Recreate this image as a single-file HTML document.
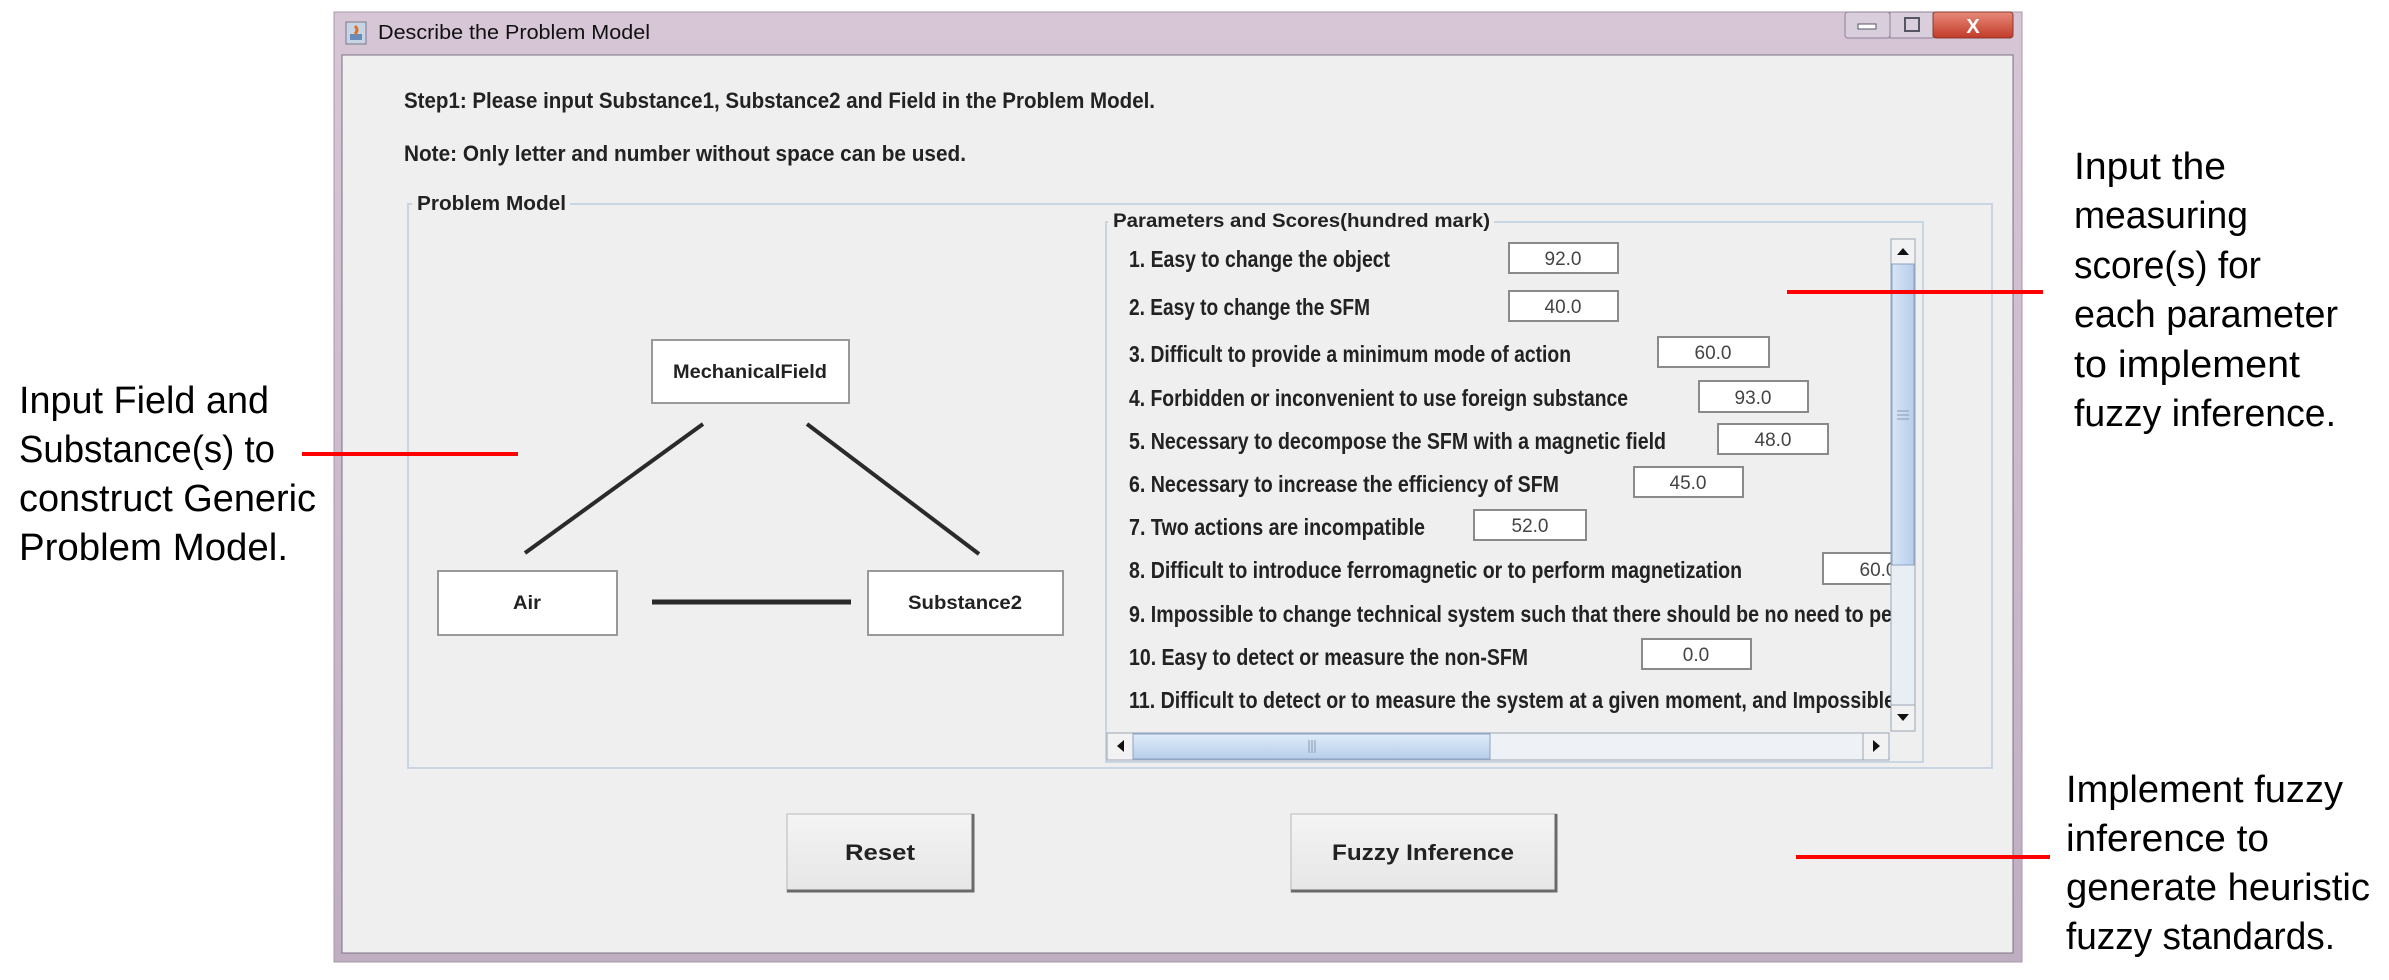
<!DOCTYPE html>
<html><head><meta charset="utf-8"><style>
html,body{margin:0;padding:0;background:#fff;}
svg{display:block;}
.a{font-family:"Liberation Sans",sans-serif;font-size:38px;fill:#000;}
.b{font-family:"Liberation Sans",sans-serif;font-weight:bold;fill:#222;}
.v{font-family:"Liberation Sans",sans-serif;font-size:19px;fill:#444;}
</style></head><body>
<svg width="2389" height="980" viewBox="0 0 2389 980" xmlns="http://www.w3.org/2000/svg">
<defs>
<linearGradient id="tb" x1="0" y1="0" x2="0" y2="1"><stop offset="0" stop-color="#d6c6d6"/><stop offset="1" stop-color="#bfaec2"/></linearGradient>
<linearGradient id="cl" x1="0" y1="0" x2="0" y2="1"><stop offset="0" stop-color="#e88a7a"/><stop offset="1" stop-color="#c23a28"/></linearGradient>
<linearGradient id="sb" x1="0" y1="0" x2="1" y2="0"><stop offset="0" stop-color="#d8e6f6"/><stop offset="1" stop-color="#b6cdea"/></linearGradient>
<linearGradient id="sbh" x1="0" y1="0" x2="0" y2="1"><stop offset="0" stop-color="#e0ecf8"/><stop offset="1" stop-color="#b6cdea"/></linearGradient>
<linearGradient id="btn" x1="0" y1="0" x2="0" y2="1"><stop offset="0" stop-color="#f4f4f4"/><stop offset="1" stop-color="#e6e6e6"/></linearGradient>
<clipPath id="vp"><rect x="1107" y="236" width="784" height="496"/></clipPath>
</defs>
<rect width="2389" height="980" fill="#fff"/>
<rect x="334" y="12" width="1688" height="950" fill="url(#tb)" stroke="#a897aa" stroke-width="1"/>
<rect x="342" y="55" width="1671" height="898" fill="#efefef" stroke="#7d7080" stroke-width="1"/>
<rect x="346" y="22" width="20" height="22" fill="#c8d4e4" stroke="#7a7a8a"/>
<path d="M350 34 h12 v6 h-12z" fill="#6a8ab8"/><path d="M355 26 q4 4 0 8" stroke="#e07020" stroke-width="3" fill="none"/>
<text x="378" y="39" font-family="Liberation Sans,sans-serif" font-size="20" fill="#111" textLength="272" lengthAdjust="spacingAndGlyphs">Describe the Problem Model</text>
<rect x="1845" y="12" width="45" height="26" rx="3" fill="#d9cfdc" stroke="#8f8296"/>
<rect x="1858" y="24" width="18" height="5" fill="#fff" stroke="#556"/>
<rect x="1890" y="12" width="43" height="26" fill="#d9cfdc" stroke="#8f8296"/>
<rect x="1905" y="18" width="14" height="13" fill="none" stroke="#556" stroke-width="2"/>
<rect x="1933" y="12" width="80" height="26" rx="3" fill="url(#cl)" stroke="#8a3a30"/>
<text x="1973" y="33" text-anchor="middle" font-family="Liberation Sans,sans-serif" font-weight="bold" font-size="20" fill="#fff">X</text>
<text class="b" x="404" y="108" font-size="22" textLength="751" lengthAdjust="spacingAndGlyphs">Step1:  Please input Substance1, Substance2 and Field in the Problem Model.</text>
<text class="b" x="404" y="161" font-size="22" textLength="562" lengthAdjust="spacingAndGlyphs">Note: Only letter and number without space can be used.</text>
<rect x="408" y="204" width="1584" height="564" fill="none" stroke="#c9d5e2" stroke-width="2"/>
<rect x="412" y="192" width="158" height="24" fill="#efefef"/>
<text class="b" x="417" y="210" font-size="20" textLength="149" lengthAdjust="spacingAndGlyphs">Problem Model</text>
<rect x="652" y="340" width="197" height="63" fill="#fff" stroke="#999" stroke-width="2"/>
<text class="b" x="750" y="378" font-size="19" text-anchor="middle" textLength="154" lengthAdjust="spacingAndGlyphs">MechanicalField</text>
<rect x="438" y="571" width="179" height="64" fill="#fff" stroke="#999" stroke-width="2"/>
<text class="b" x="527" y="609" font-size="19" text-anchor="middle" textLength="28" lengthAdjust="spacingAndGlyphs">Air</text>
<rect x="868" y="571" width="195" height="64" fill="#fff" stroke="#999" stroke-width="2"/>
<text class="b" x="965" y="609" font-size="19" text-anchor="middle" textLength="114" lengthAdjust="spacingAndGlyphs">Substance2</text>
<line x1="703" y1="424" x2="525" y2="553" stroke="#2a2a2a" stroke-width="4"/>
<line x1="807" y1="424" x2="979" y2="554" stroke="#2a2a2a" stroke-width="4"/>
<line x1="652" y1="602" x2="851" y2="602" stroke="#2a2a2a" stroke-width="5"/>
<rect x="1106" y="222" width="817" height="540" fill="none" stroke="#c9d5e2" stroke-width="2"/>
<rect x="1108" y="210" width="386" height="22" fill="#efefef"/>
<text class="b" x="1113" y="227" font-size="19" textLength="377" lengthAdjust="spacingAndGlyphs">Parameters and Scores(hundred mark)</text>
<g clip-path="url(#vp)">
<g class="b" font-size="23">
<text x="1129" y="267" textLength="261" lengthAdjust="spacingAndGlyphs">1. Easy to change the object</text>
<text x="1129" y="315" textLength="241" lengthAdjust="spacingAndGlyphs">2. Easy to change the SFM</text>
<text x="1129" y="362" textLength="442" lengthAdjust="spacingAndGlyphs">3. Difficult to provide a minimum mode of action</text>
<text x="1129" y="406" textLength="499" lengthAdjust="spacingAndGlyphs">4. Forbidden or inconvenient to use foreign substance</text>
<text x="1129" y="449" textLength="537" lengthAdjust="spacingAndGlyphs">5. Necessary to decompose the SFM with a magnetic field</text>
<text x="1129" y="492" textLength="430" lengthAdjust="spacingAndGlyphs">6. Necessary to increase the efficiency of SFM</text>
<text x="1129" y="535" textLength="296" lengthAdjust="spacingAndGlyphs">7. Two actions are incompatible</text>
<text x="1129" y="578" textLength="613" lengthAdjust="spacingAndGlyphs">8. Difficult to introduce ferromagnetic or to perform magnetization</text>
<text x="1129" y="622" textLength="763" lengthAdjust="spacingAndGlyphs">9. Impossible to change technical system such that there should be no need to pe</text>
<text x="1129" y="665" textLength="399" lengthAdjust="spacingAndGlyphs">10. Easy to detect or measure the non-SFM</text>
<text x="1129" y="708" textLength="766" lengthAdjust="spacingAndGlyphs">11. Difficult to detect or to measure the system at a given moment, and Impossible</text>
</g>
<g fill="#fff" stroke="#8a8a8a" stroke-width="2">
<rect x="1509" y="243" width="109" height="30"/>
<rect x="1509" y="291" width="109" height="30"/>
<rect x="1658" y="337" width="111" height="30"/>
<rect x="1699" y="381" width="109" height="31"/>
<rect x="1718" y="424" width="110" height="30"/>
<rect x="1634" y="467" width="109" height="30"/>
<rect x="1474" y="510" width="112" height="30"/>
<rect x="1823" y="553" width="110" height="31"/>
<rect x="1642" y="639" width="109" height="30"/>
</g>
<g class="v" text-anchor="middle">
<text x="1563" y="265">92.0</text>
<text x="1563" y="313">40.0</text>
<text x="1713" y="359">60.0</text>
<text x="1753" y="404">93.0</text>
<text x="1773" y="446">48.0</text>
<text x="1688" y="489">45.0</text>
<text x="1530" y="532">52.0</text>
<text x="1878" y="576">60.0</text>
<text x="1696" y="661">0.0</text>
</g>
</g>
<rect x="1891" y="239" width="24" height="492" fill="#e9eef4" stroke="#9aa6b4"/>
<rect x="1891" y="239" width="24" height="25" fill="#f2f2f2" stroke="#9aa6b4"/>
<path d="M1897 255 l6 -7 l6 7z" fill="#111"/>
<rect x="1892" y="264" width="22" height="301" fill="url(#sb)" stroke="#8aa4c6"/>
<path d="M1897 411 h12 M1897 415 h12 M1897 419 h12" stroke="#8a9ab0"/>
<rect x="1891" y="705" width="24" height="26" fill="#f2f2f2" stroke="#9aa6b4"/>
<path d="M1897 714 l6 7 l6 -7z" fill="#111"/>
<rect x="1107" y="733" width="782" height="27" fill="#eef1f5" stroke="#9aa6b4"/>
<rect x="1107" y="733" width="26" height="27" fill="#f2f2f2" stroke="#9aa6b4"/>
<path d="M1124 740 l-7 6 l7 6z" fill="#111"/>
<rect x="1133" y="734" width="357" height="25" fill="url(#sbh)" stroke="#8aa4c6"/>
<path d="M1309 740 v13 M1312 740 v13 M1315 740 v13" stroke="#8a9ab0"/>
<rect x="1863" y="733" width="26" height="27" fill="#f2f2f2" stroke="#9aa6b4"/>
<path d="M1873 740 l7 6 l-7 6z" fill="#111"/>
<rect x="787" y="814" width="186" height="78" fill="url(#btn)" stroke="#b8b8b8"/>
<path d="M787 891 h186 v-77" stroke="#6a6a6a" stroke-width="3" fill="none"/>
<text class="b" x="880" y="860" font-size="22" text-anchor="middle" textLength="70" lengthAdjust="spacingAndGlyphs">Reset</text>
<rect x="1291" y="814" width="265" height="78" fill="url(#btn)" stroke="#b8b8b8"/>
<path d="M1291 891 h265 v-77" stroke="#6a6a6a" stroke-width="3" fill="none"/>
<text class="b" x="1423" y="860" font-size="22" text-anchor="middle" textLength="182" lengthAdjust="spacingAndGlyphs">Fuzzy Inference</text>
<line x1="302" y1="454" x2="518" y2="454" stroke="#f00" stroke-width="4"/>
<line x1="1787" y1="292" x2="2043" y2="292" stroke="#f00" stroke-width="4"/>
<line x1="1796" y1="857" x2="2050" y2="857" stroke="#f00" stroke-width="4"/>
<g class="a">
<text x="19" y="413" textLength="250" lengthAdjust="spacingAndGlyphs">Input Field and</text>
<text x="19" y="462" textLength="256" lengthAdjust="spacingAndGlyphs">Substance(s) to</text>
<text x="19" y="511" textLength="297" lengthAdjust="spacingAndGlyphs">construct Generic</text>
<text x="19" y="560" textLength="269" lengthAdjust="spacingAndGlyphs">Problem Model.</text>
<text x="2074" y="179" textLength="152" lengthAdjust="spacingAndGlyphs">Input the</text>
<text x="2074" y="228" textLength="174" lengthAdjust="spacingAndGlyphs">measuring</text>
<text x="2074" y="278" textLength="187" lengthAdjust="spacingAndGlyphs">score(s) for</text>
<text x="2074" y="327" textLength="264" lengthAdjust="spacingAndGlyphs">each parameter</text>
<text x="2074" y="377" textLength="226" lengthAdjust="spacingAndGlyphs">to implement</text>
<text x="2074" y="426" textLength="262" lengthAdjust="spacingAndGlyphs">fuzzy inference.</text>
<text x="2066" y="802" textLength="277" lengthAdjust="spacingAndGlyphs">Implement fuzzy</text>
<text x="2066" y="851" textLength="203" lengthAdjust="spacingAndGlyphs">inference to</text>
<text x="2066" y="900" textLength="304" lengthAdjust="spacingAndGlyphs">generate heuristic</text>
<text x="2066" y="949" textLength="269" lengthAdjust="spacingAndGlyphs">fuzzy standards.</text>
</g>
</svg>
</body></html>
